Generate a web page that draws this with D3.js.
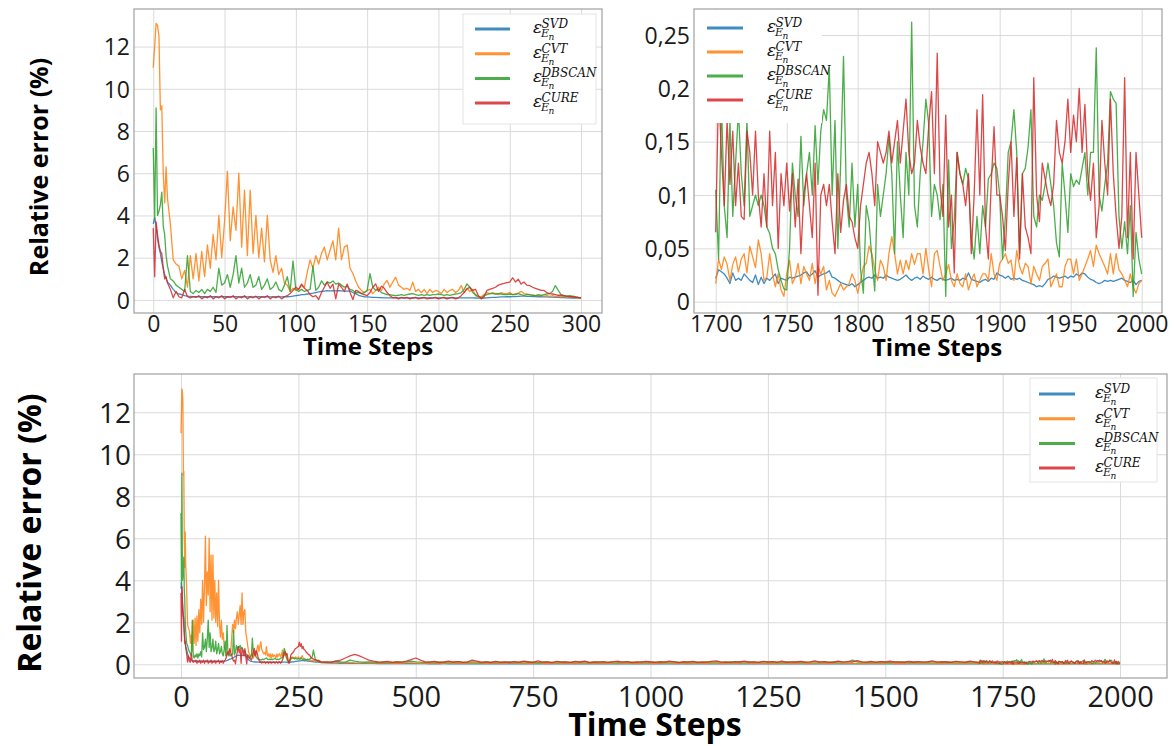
<!DOCTYPE html>
<html><head><meta charset="utf-8">
<script src="https://cdn.jsdelivr.net/npm/d3@7"></script>
<style>body{margin:0;background:#fff}svg{display:block}</style>
</head><body>
<svg id="c" width="1174" height="746"></svg>
<script>
// ---------- DATA ----------
const seriesNames = ["SVD", "CVT", "DBSCAN", "CURE"];
// time steps: detailed early part, mid part, late part
const tEarly = d3.range(0, 11).concat(d3.range(12, 301, 2));
const tMid = d3.range(310, 1691, 10);
const tLate = d3.range(1700, 2001, 2);

const svdEarly = [3.6,3.9,3.5,2.9,2.5,2.2,1.8,1.5,1.2,1.0,0.85,
0.7,0.5,0.35,0.28,0.25,0.2,0.18,0.17,0.16,0.16,
0.15,0.16,0.15,0.15,0.16,0.15,0.15,0.14,0.15,0.15,
0.15,0.14,0.15,0.15,0.14,0.15,0.15,0.14,0.15,0.14,
0.14,0.15,0.14,0.14,0.15,0.14,0.14,0.15,0.14,0.14,
0.15,0.15,0.16,0.18,0.2,0.22,0.25,0.25,0.28,0.3,
0.32,0.35,0.38,0.4,0.42,0.44,0.43,0.44,0.43,0.44,
0.43,0.42,0.42,0.42,0.35,0.3,0.22,0.18,0.15,0.14,
0.13,0.12,0.12,0.11,0.11,0.1,0.1,0.1,0.1,0.1,
0.1,0.1,0.09,0.1,0.1,0.09,0.1,0.1,0.09,0.1,
0.1,0.09,0.1,0.1,0.09,0.1,0.1,0.09,0.1,0.1,
0.09,0.1,0.1,0.1,0.1,0.1,0.1,0.09,0.08,0.08,
0.09,0.1,0.11,0.12,0.12,0.13,0.14,0.14,0.15,0.15,
0.16,0.16,0.17,0.18,0.18,0.17,0.17,0.16,0.16,0.15,
0.15,0.14,0.14,0.13,0.13,0.12,0.12,0.11,0.11,0.1,
0.1,0.09,0.09,0.08,0.08];
const cvtEarly = [11.0,12.0,13.1,13.0,12.5,9.0,9.2,6.0,4.6,6.3,4.8,
3.6,1.9,1.7,1.6,1.0,1.4,0.6,2.1,1.0,2.2,
0.9,2.3,1.1,2.6,1.5,3.1,1.9,4.0,2.0,3.7,
6.1,2.8,4.4,3.3,6.0,2.5,5.2,2.1,5.2,2.2,
4.0,2.0,3.4,1.8,4.0,1.9,1.3,2.1,1.2,1.5,
0.8,0.7,0.4,0.55,0.45,0.5,0.7,0.6,1.3,1.9,
1.5,2.1,1.7,2.2,2.5,1.9,2.35,2.8,1.9,3.4,
1.9,2.5,2.6,1.5,1.25,0.9,0.6,0.45,0.35,0.45,
0.5,0.3,0.45,0.6,0.45,0.76,0.92,0.6,0.85,1.08,
0.7,0.6,0.5,0.55,0.45,0.84,0.4,0.5,0.35,0.5,
0.3,0.5,0.35,0.45,0.4,0.3,0.5,0.35,0.45,0.5,
0.35,0.45,0.68,0.35,0.55,0.4,0.5,0.2,0.15,0.15,
0.25,0.35,0.3,0.35,0.3,0.25,0.35,0.3,0.3,0.35,
0.25,0.3,0.32,0.41,0.3,0.28,0.25,0.22,0.2,0.2,
0.2,0.18,0.2,0.17,0.2,0.15,0.18,0.15,0.17,0.15,
0.14,0.15,0.12,0.1,0.08];
const dbscanEarly = [7.2,3.8,9.1,4.0,4.2,4.5,5.1,3.5,3.1,2.1,1.6,
1.0,0.9,0.7,0.6,0.5,0.4,2.1,0.4,0.3,0.45,
0.35,0.5,0.3,0.5,0.4,0.6,0.35,1.5,0.7,0.8,
1.2,0.6,1.2,2.1,0.8,1.5,0.6,0.8,1.2,0.6,
0.7,1.1,0.5,0.7,1.0,0.5,0.6,0.85,0.5,0.4,
0.7,1.1,0.4,1.85,0.5,0.4,0.5,0.4,0.45,0.5,
1.6,0.45,0.6,0.9,0.7,0.85,0.8,0.9,0.75,0.8,
0.7,0.6,0.65,0.5,0.45,0.35,0.35,0.3,0.35,0.45,
1.25,0.6,0.45,0.5,0.35,0.3,0.25,0.25,0.22,0.2,
0.22,0.25,0.22,0.25,0.28,0.3,0.25,0.22,0.25,0.22,
0.25,0.22,0.25,0.25,0.28,0.25,0.22,0.25,0.22,0.25,
0.28,0.3,0.35,0.5,0.76,0.6,0.35,0.25,0.15,0.1,
0.2,0.25,0.3,0.3,0.28,0.3,0.28,0.25,0.25,0.28,
0.25,0.25,0.3,0.25,0.22,0.25,0.25,0.22,0.2,0.25,
0.22,0.25,0.28,0.3,0.4,0.68,0.45,0.25,0.2,0.18,
0.2,0.18,0.15,0.12,0.1];
const cureEarly = [3.4,1.1,3.7,3.1,2.6,2.3,2.2,1.5,1.0,1.1,0.8,
0.5,0.1,0.4,0.15,0.1,0.5,0.15,0.1,0.15,0.12,
0.2,0.05,0.15,0.1,0.2,0.05,0.15,0.1,0.2,0.05,
0.15,0.12,0.2,0.05,0.15,0.1,0.2,0.05,0.15,0.1,
0.18,0.05,0.15,0.12,0.2,0.05,0.15,0.1,0.18,0.05,
0.15,0.2,0.3,0.45,0.6,0.5,0.75,0.55,0.45,0.25,
0.15,0.2,0.02,0.35,0.6,0.84,0.55,0.75,0.05,0.75,
0.6,0.4,0.75,0.35,0.02,0.45,0.4,0.3,0.25,0.2,
0.35,0.6,0.76,0.4,0.65,0.55,0.35,0.2,0.1,0.12,
0.05,0.12,0.08,0.12,0.05,0.1,0.12,0.05,0.1,0.12,
0.05,0.1,0.08,0.12,0.05,0.1,0.12,0.05,0.1,0.12,
0.05,0.1,0.2,0.35,0.52,0.6,0.45,0.5,0.2,0.05,
0.15,0.45,0.5,0.55,0.6,0.7,0.75,0.78,0.82,0.84,
1.05,0.85,0.98,0.75,0.85,0.7,0.68,0.6,0.55,0.5,
0.45,0.45,0.35,0.3,0.28,0.25,0.22,0.22,0.2,0.18,
0.15,0.15,0.12,0.12,0.1];

const svdMid = [0.07,0.06,0.06,0.05,0.05,0.05,0.045,0.04,0.04,0.04,
0.04,0.035,0.035,0.035,0.03,0.03,0.03,0.03,0.03,0.03,
0.03,0.028,0.027,0.03,0.026,0.028,0.027,0.025,0.028,0.026,
0.027,0.025,0.028,0.026,0.025,0.027,0.026,0.028,0.025,0.026,
0.026,0.025,0.027,0.024,0.026,0.025,0.027,0.025,0.024,0.026,
0.025,0.027,0.024,0.026,0.025,0.024,0.026,0.025,0.027,0.024,
0.025,0.024,0.026,0.025,0.023,0.025,0.026,0.024,0.025,0.023,
0.024,0.026,0.025,0.023,0.024,0.025,0.024,0.026,0.023,0.024,
0.025,0.023,0.024,0.025,0.024,0.023,0.025,0.024,0.022,0.024,
0.023,0.025,0.024,0.022,0.024,0.023,0.025,0.022,0.024,0.023,
0.024,0.022,0.023,0.025,0.023,0.022,0.024,0.023,0.022,0.024,
0.023,0.022,0.024,0.023,0.021,0.023,0.024,0.022,0.023,0.021,
0.023,0.022,0.024,0.021,0.023,0.022,0.021,0.023,0.022,0.024,
0.022,0.021,0.023,0.022,0.024,0.021,0.023,0.022,0.021];
const cvtMid = [0.08,0.07,0.1,0.08,0.06,0.09,0.07,0.06,0.08,0.06,
0.06,0.05,0.07,0.06,0.05,0.06,0.05,0.07,0.08,0.06,
0.05,0.06,0.04,0.05,0.06,0.04,0.05,0.06,0.05,0.04,
0.05,0.06,0.04,0.05,0.04,0.06,0.05,0.04,0.05,0.06,
0.04,0.05,0.03,0.05,0.06,0.04,0.05,0.03,0.05,0.04,
0.05,0.04,0.06,0.03,0.05,0.04,0.05,0.06,0.04,0.03,
0.05,0.04,0.03,0.05,0.04,0.06,0.03,0.04,0.05,0.04,
0.03,0.05,0.04,0.06,0.03,0.04,0.05,0.03,0.04,0.05,
0.04,0.03,0.05,0.04,0.03,0.05,0.04,0.06,0.03,0.04,
0.05,0.03,0.04,0.05,0.03,0.04,0.03,0.05,0.04,0.03,
0.04,0.05,0.03,0.04,0.03,0.05,0.04,0.03,0.05,0.04,
0.03,0.04,0.05,0.03,0.04,0.03,0.05,0.04,0.03,0.04,
0.05,0.03,0.04,0.03,0.05,0.04,0.03,0.04,0.05,0.03,
0.04,0.03,0.05,0.04,0.03,0.04,0.03,0.05,0.04];
const dbscanMid = [0.1,0.12,0.15,0.12,0.1,0.2,0.15,0.12,0.1,0.12,
0.1,0.08,0.12,0.1,0.09,0.11,0.1,0.12,0.15,0.12,
0.1,0.09,0.11,0.1,0.12,0.09,0.1,0.11,0.13,0.1,
0.09,0.12,0.1,0.08,0.11,0.1,0.12,0.09,0.1,0.11,
0.1,0.09,0.11,0.12,0.1,0.08,0.1,0.11,0.09,0.1,
0.12,0.1,0.09,0.11,0.1,0.12,0.08,0.1,0.11,0.09,
0.1,0.12,0.09,0.1,0.11,0.1,0.09,0.12,0.1,0.11,
0.1,0.09,0.11,0.1,0.12,0.1,0.09,0.1,0.11,0.1,
0.09,0.11,0.1,0.12,0.1,0.09,0.11,0.1,0.12,0.1,
0.11,0.1,0.09,0.12,0.1,0.11,0.09,0.1,0.12,0.1,
0.1,0.11,0.09,0.1,0.12,0.1,0.11,0.1,0.09,0.11,
0.1,0.12,0.2,0.11,0.1,0.09,0.11,0.1,0.12,0.1,
0.09,0.11,0.1,0.12,0.1,0.09,0.11,0.1,0.12,0.11,
0.1,0.09,0.11,0.1,0.12,0.1,0.09,0.11,0.1];
const cureMid = [0.12,0.1,0.15,0.2,0.3,0.4,0.47,0.4,0.3,0.2,
0.15,0.12,0.1,0.14,0.09,0.12,0.1,0.15,0.22,0.3,
0.2,0.12,0.1,0.14,0.08,0.12,0.15,0.1,0.13,0.09,
0.12,0.2,0.15,0.1,0.12,0.08,0.14,0.1,0.12,0.09,
0.13,0.1,0.15,0.11,0.09,0.16,0.1,0.12,0.08,0.14,
0.1,0.12,0.09,0.14,0.11,0.15,0.09,0.12,0.1,0.13,
0.09,0.12,0.15,0.1,0.13,0.08,0.12,0.1,0.14,0.11,
0.09,0.13,0.1,0.15,0.12,0.08,0.13,0.11,0.14,0.09,
0.12,0.1,0.14,0.16,0.1,0.12,0.09,0.13,0.11,0.15,
0.1,0.12,0.09,0.14,0.11,0.13,0.1,0.15,0.09,0.12,
0.11,0.14,0.1,0.12,0.16,0.1,0.13,0.09,0.12,0.15,
0.1,0.13,0.11,0.18,0.12,0.1,0.14,0.09,0.13,0.11,
0.15,0.1,0.12,0.09,0.14,0.11,0.13,0.1,0.12,0.16,
0.1,0.13,0.11,0.09,0.14,0.12,0.1,0.15,0.12];

const svdLate = [0.022,0.03,0.028,0.026,0.022,0.017,0.027,0.02,0.022,0.02,
0.026,0.023,0.02,0.018,0.025,0.016,0.023,0.017,0.022,0.02,
0.023,0.026,0.017,0.022,0.021,0.02,0.023,0.022,0.023,0.024,
0.025,0.027,0.028,0.024,0.026,0.029,0.023,0.025,0.026,0.027,
0.029,0.023,0.022,0.02,0.018,0.017,0.016,0.015,0.017,0.014,
0.016,0.018,0.02,0.022,0.023,0.022,0.025,0.022,0.023,0.022,
0.025,0.023,0.022,0.021,0.02,0.021,0.023,0.025,0.022,0.02,
0.022,0.023,0.021,0.024,0.022,0.021,0.023,0.021,0.02,0.022,
0.021,0.02,0.021,0.022,0.02,0.021,0.02,0.022,0.021,0.027,
0.021,0.02,0.019,0.018,0.02,0.021,0.019,0.022,0.021,0.027,
0.025,0.024,0.022,0.024,0.021,0.022,0.021,0.022,0.02,0.019,
0.018,0.017,0.016,0.014,0.015,0.014,0.017,0.021,0.022,0.024,
0.023,0.022,0.023,0.024,0.022,0.024,0.023,0.026,0.024,0.027,
0.026,0.023,0.021,0.02,0.018,0.017,0.018,0.02,0.019,0.02,
0.019,0.02,0.021,0.022,0.02,0.019,0.018,0.02,0.016,0.019,
0.02];
const cvtLate = [0.017,0.04,0.03,0.042,0.035,0.02,0.035,0.042,0.028,0.04,
0.045,0.027,0.052,0.042,0.032,0.058,0.045,0.02,0.023,0.045,
0.026,0.014,0.026,0.011,0.005,0.026,0.039,0.017,0.023,0.036,
0.017,0.033,0.026,0.02,0.036,0.017,0.033,0.026,0.033,0.011,
0.02,0.008,0.005,0.011,0.017,0.011,0.014,0.017,0.026,0.02,
0.008,0.02,0.033,0.036,0.052,0.045,0.03,0.02,0.039,0.033,
0.02,0.045,0.061,0.045,0.026,0.039,0.026,0.039,0.03,0.045,
0.035,0.045,0.045,0.026,0.05,0.03,0.014,0.045,0.048,0.033,
0.02,0.026,0.035,0.02,0.014,0.026,0.017,0.014,0.026,0.011,
0.02,0.026,0.014,0.02,0.026,0.026,0.02,0.045,0.026,0.02,
0.036,0.04,0.045,0.036,0.039,0.02,0.048,0.033,0.026,0.036,
0.033,0.017,0.033,0.026,0.02,0.033,0.036,0.04,0.014,0.02,
0.026,0.014,0.014,0.033,0.04,0.04,0.026,0.04,0.02,0.026,
0.033,0.04,0.048,0.033,0.053,0.045,0.039,0.033,0.026,0.045,
0.026,0.045,0.03,0.026,0.02,0.014,0.026,0.014,0.008,0.017,
0.02];
const dbscanLate = [0.105,0.04,0.19,0.09,0.06,0.17,0.08,0.13,0.18,0.12,
0.09,0.17,0.08,0.09,0.1,0.09,0.1,0.09,0.07,0.064,
0.05,0.045,0.03,0.02,0.012,0.011,0.05,0.13,0.1,0.08,
0.155,0.09,0.12,0.14,0.1,0.165,0.11,0.16,0.18,0.17,
0.22,0.1,0.17,0.05,0.13,0.23,0.1,0.07,0.13,0.07,
0.11,0.03,0.008,0.09,0.075,0.04,0.01,0.11,0.08,0.1,
0.12,0.155,0.12,0.045,0.15,0.1,0.06,0.14,0.1,0.262,
0.09,0.07,0.12,0.15,0.19,0.167,0.08,0.11,0.1,0.077,
0.11,0.005,0.133,0.05,0.077,0.14,0.12,0.11,0.125,0.115,
0.06,0.04,0.08,0.045,0.09,0.07,0.115,0.12,0.13,0.125,
0.1,0.04,0.08,0.14,0.15,0.18,0.14,0.045,0.12,0.125,
0.145,0.18,0.08,0.07,0.1,0.095,0.11,0.13,0.11,0.09,
0.055,0.042,0.13,0.1,0.065,0.12,0.108,0.114,0.11,0.125,
0.14,0.1,0.14,0.14,0.238,0.1,0.085,0.11,0.13,0.197,
0.19,0.186,0.08,0.05,0.075,0.045,0.09,0.005,0.065,0.04,
0.026];
const cureLate = [0.065,0.2,0.14,0.09,0.17,0.11,0.16,0.09,0.13,0.08,
0.077,0.16,0.14,0.1,0.16,0.1,0.07,0.12,0.07,0.16,
0.09,0.14,0.05,0.12,0.09,0.13,0.085,0.12,0.07,0.115,
0.045,0.1,0.12,0.09,0.06,0.13,0.006,0.1,0.11,0.09,
0.11,0.075,0.045,0.12,0.065,0.095,0.11,0.08,0.075,0.06,
0.05,0.09,0.11,0.13,0.14,0.12,0.09,0.15,0.14,0.13,
0.14,0.16,0.13,0.15,0.17,0.13,0.16,0.19,0.14,0.12,
0.13,0.17,0.145,0.13,0.12,0.165,0.197,0.12,0.233,0.108,
0.08,0.175,0.07,0.1,0.027,0.14,0.12,0.11,0.09,0.12,
0.045,0.1,0.18,0.1,0.194,0.07,0.04,0.11,0.164,0.1,
0.1,0.08,0.048,0.11,0.15,0.08,0.135,0.04,0.12,0.07,
0.06,0.045,0.21,0.1,0.075,0.13,0.115,0.1,0.09,0.11,
0.17,0.14,0.13,0.15,0.19,0.14,0.175,0.15,0.2,0.14,
0.185,0.12,0.095,0.13,0.06,0.09,0.17,0.13,0.1,0.19,
0.12,0.08,0.05,0.08,0.21,0.06,0.14,0.04,0.14,0.1,
0.06];

const ticksTL_x = [0,50,100,150,200,250,300];
const ticksTL_y = [0,2,4,6,8,10,12];
const ticksTR_x = [1700,1750,1800,1850,1900,1950,2000];
const ticksTR_y = [0,0.05,0.1,0.15,0.2,0.25];
const ticksB_x = [0,250,500,750,1000,1250,1500,1750,2000];
const ticksB_y = [0,2,4,6,8,10,12];

// ---------- DRAWING ----------
const colors = ["#1f77b4","#ff7f0e","#2ca02c","#d62728"];
const svg = d3.select("#c");
svg.append("rect").attr("width",1174).attr("height",746).attr("fill","#fff");

const tAll = tEarly.concat(tMid, tLate);
const full = [svdEarly.concat(svdMid, svdLate), cvtEarly.concat(cvtMid, cvtLate),
              dbscanEarly.concat(dbscanMid, dbscanLate), cureEarly.concat(cureMid, cureLate)];

let clipId = 0;
function panel(o) {
  const x = d3.scaleLinear().domain(o.xd).range([o.x0, o.x1]);
  const y = d3.scaleLinear().domain(o.yd).range([o.y1, o.y0]);
  const g = svg.append("g");
  // grid
  const gx = g.append("g").attr("transform", `translate(0,${o.y1})`)
    .call(d3.axisBottom(x).tickValues(o.xt).tickSize(-(o.y1 - o.y0)).tickFormat(""));
  const gy = g.append("g").attr("transform", `translate(${o.x0},0)`)
    .call(d3.axisLeft(y).tickValues(o.yt).tickSize(-(o.x1 - o.x0)).tickFormat(""));
  [gx, gy].forEach(a => { a.select(".domain").remove(); a.selectAll("line").attr("stroke", "#dadada").attr("stroke-width", 1); });
  // tick labels
  const lx = g.append("g").attr("transform", `translate(0,${o.y1})`)
    .call(d3.axisBottom(x).tickValues(o.xt).tickSize(0).tickFormat(o.xf || d3.format("d")));
  lx.select(".domain").remove();
  lx.selectAll("text").attr("y", o.xlabY - o.y1).attr("dy", 0)
    .attr("font-family", "Open Sans").attr("font-size", o.xfs).attr("fill", "#1a1a1a");
  const ly = g.append("g").attr("transform", `translate(${o.x0},0)`)
    .call(d3.axisLeft(y).tickValues(o.yt).tickSize(0).tickFormat(o.yf || d3.format("d")));
  ly.select(".domain").remove();
  ly.selectAll("text").attr("x", -o.ypad).attr("dy", "0.36em")
    .attr("font-family", "Open Sans").attr("font-size", o.yfs).attr("fill", "#1a1a1a");
  // lines
  const id = "clip" + (clipId++);
  svg.append("clipPath").attr("id", id).append("rect")
    .attr("x", o.x0).attr("y", o.y0).attr("width", o.x1 - o.x0).attr("height", o.y1 - o.y0);
  const lg = g.append("g").attr("clip-path", `url(#${id})`);
  o.vals.forEach((v, i) => {
    const line = d3.line().x((d, j) => x(o.t[j])).y(d => y(d));
    lg.append("path").datum(v).attr("d", line).attr("fill", "none")
      .attr("stroke", colors[i]).attr("stroke-width", o.lw).attr("stroke-opacity", 0.85)
      .attr("stroke-linejoin", "round");
  });
  // legend
  const L = o.leg;
  g.append("rect").attr("x", L.bx0).attr("y", L.by0).attr("width", L.bx1 - L.bx0).attr("height", L.by1 - L.by0)
    .attr("fill", "#fff").attr("stroke", L.stroke ? "#e4e4e4" : "none");
  seriesNames.forEach((s, i) => {
    const r = L.r0 + i * L.dr;
    g.append("line").attr("x1", L.lx0).attr("x2", L.lx1).attr("y1", r).attr("y2", r)
      .attr("stroke", colors[i]).attr("stroke-width", 3).attr("stroke-opacity", 0.85);
    const t = g.append("text").attr("x", L.tx).attr("y", r + 4)
      .attr("font-family", "DejaVu Serif").attr("font-style", "italic").attr("fill", "#111");
    t.append("tspan").attr("font-size", 17).text("ε");
    t.append("tspan").attr("x", L.tx + 8.5).attr("y", r - 1).attr("font-size", 12).text(s);
    t.append("tspan").attr("x", L.tx + 8).attr("y", r + 8).attr("font-size", 11).text("E");
    t.append("tspan").attr("x", L.tx + 15.5).attr("y", r + 11).attr("font-size", 9).text("n");
  });
  // frame
  g.append("rect").attr("x", o.x0).attr("y", o.y0).attr("width", o.x1 - o.x0).attr("height", o.y1 - o.y0)
    .attr("fill", "none").attr("stroke", "#a0a0a0").attr("stroke-width", 1.2);
  // axis titles
  g.append("text").text("Time Steps").attr("x", o.xtX).attr("y", o.xtY).attr("text-anchor", "middle")
    .attr("font-family", "Open Sans").attr("font-weight", 700).attr("font-size", o.xtfs).attr("fill", "#000");
  if (o.ytfs) {
    g.append("text").text("Relative error (%)").attr("transform", `translate(${o.ytX},${o.ytY}) rotate(-90)`)
      .attr("text-anchor", "middle").attr("dominant-baseline", "central")
      .attr("font-family", "Open Sans").attr("font-weight", 700).attr("font-size", o.ytfs).attr("fill", "#000");
  }
}

const commaFmt = d => d === 0 ? "0" : String(d).replace(".", ",");

// top-left
panel({x0:134, x1:602, y0:9, y1:313, xd:[-13.5, 314.7], yd:[-0.62, 13.78],
  xt:ticksTL_x, yt:ticksTL_y, xfs:23, yfs:23, xlabY:332, ypad:4,
  t:tEarly, vals:[svdEarly, cvtEarly, dbscanEarly, cureEarly], lw:1.3,
  leg:{bx0:463, bx1:596, by0:14, by1:124, stroke:true, r0:29, dr:24.7, lx0:475, lx1:510, tx:533},
  xtX:368, xtY:355, xtfs:24, ytX:38, ytY:167, ytfs:25});
// top-right
panel({x0:694, x1:1162, y0:9, y1:313, xd:[1684.7, 2014.3], yd:[-0.0106, 0.2744],
  xt:ticksTR_x, yt:ticksTR_y, xfs:23, yfs:23, xlabY:332, ypad:4, yf:commaFmt,
  t:tLate, vals:[svdLate, cvtLate, dbscanLate, cureLate], lw:1.3,
  leg:{bx0:695, bx1:822, by0:10, by1:123, stroke:false, r0:28, dr:24, lx0:707, lx1:743, tx:767},
  xtX:937, xtY:356, xtfs:24});
// bottom
panel({x0:134, x1:1167, y0:374, y1:678, xd:[-100.1, 2100], yd:[-0.652, 13.82],
  xt:ticksB_x, yt:ticksB_y, xfs:29, yfs:28, xlabY:707, ypad:3,
  t:tAll, vals:full, lw:1.3,
  leg:{bx0:1030, bx1:1157, by0:378, by1:482, stroke:true, r0:394, dr:24.7, lx0:1039, lx1:1075, tx:1095},
  xtX:655, xtY:736, xtfs:32, ytX:28, ytY:533, ytfs:32});
</script>
</body></html>
